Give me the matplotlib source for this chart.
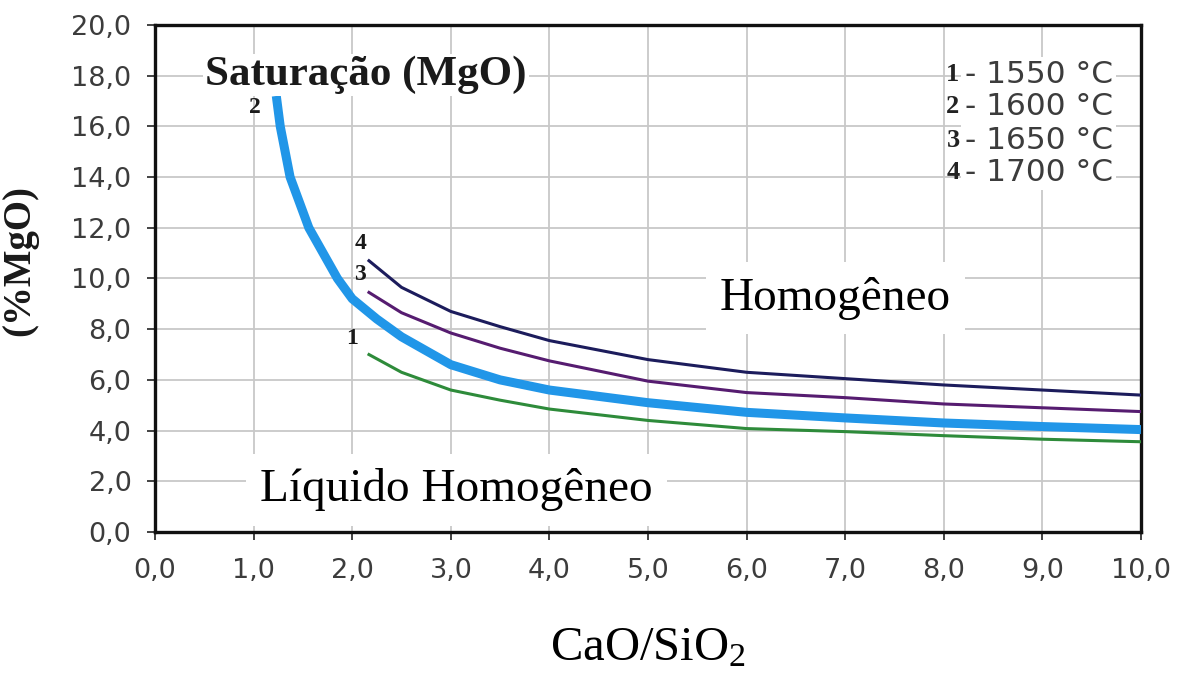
import matplotlib.pyplot as plt

plt.rcParams["mathtext.fontset"] = "custom"
plt.rcParams["mathtext.rm"] = "Liberation Serif"
plt.rcParams["mathtext.it"] = "Liberation Serif:italic"

# MgO saturation vs. basicity (CaO/SiO2), one curve per temperature
x_1550 = [2.17, 2.5, 3.0, 3.5, 4.0, 5.0, 6.0, 7.0, 8.0, 9.0, 10.0]
y_1550 = [7.0, 6.3, 5.6, 5.2, 4.85, 4.4, 4.08, 3.96, 3.8, 3.66, 3.56]

x_1600 = [1.23, 1.27, 1.37, 1.56, 1.85, 2.0, 2.25, 2.5, 3.0, 3.5, 4.0, 5.0,
          6.0, 7.0, 8.0, 9.0, 10.0]
y_1600 = [17.2, 16.0, 14.0, 12.0, 10.0, 9.2, 8.4, 7.7, 6.6, 6.0, 5.6, 5.1,
          4.72, 4.5, 4.3, 4.16, 4.04]

x_1650 = [2.17, 2.5, 3.0, 3.5, 4.0, 5.0, 6.0, 7.0, 8.0, 9.0, 10.0]
y_1650 = [9.45, 8.65, 7.85, 7.25, 6.75, 5.95, 5.5, 5.3, 5.05, 4.9, 4.75]

x_1700 = [2.17, 2.5, 3.0, 3.5, 4.0, 5.0, 6.0, 7.0, 8.0, 9.0, 10.0]
y_1700 = [10.7, 9.65, 8.7, 8.1, 7.55, 6.8, 6.3, 6.05, 5.8, 5.6, 5.4]

curve_ids = ["1", "2", "3", "4"]
temps = ["1550 °C", "1600 °C", "1650 °C", "1700 °C"]

x_ticks = [0, 1, 2, 3, 4, 5, 6, 7, 8, 9, 10]
y_ticks = [0, 2, 4, 6, 8, 10, 12, 14, 16, 18, 20]

SERIF = "Liberation Serif"
TICK_COLOR = "#3c3c3c"

fig = plt.figure(figsize=(11.78, 6.81), dpi=100)
ax = fig.add_axes([0.1316, 0.2188, 0.8370, 0.7445])

ax.plot(x_1550, y_1550, color="#2e8b3a", lw=2.2, zorder=3)
ax.plot(x_1650, y_1650, color="#561c70", lw=2.2, zorder=3)
ax.plot(x_1700, y_1700, color="#1c1c5c", lw=2.2, zorder=3)
ax.plot(x_1600, y_1600, color="#2196e8", lw=6.5, zorder=4,
        solid_capstyle="butt", solid_joinstyle="round")

ax.set_xlim(0, 10)
ax.set_ylim(0, 20)
ax.set_xticks(x_ticks)
ax.set_yticks(y_ticks)
ax.set_xticklabels([f"{v:.1f}".replace(".", ",") for v in x_ticks])
ax.set_yticklabels([f"{v:.1f}".replace(".", ",") for v in y_ticks])
ax.tick_params(axis="both", labelsize=19.5, colors="#222222",
               labelcolor=TICK_COLOR, length=6, width=1.2)
ax.tick_params(axis="x", pad=13)
ax.tick_params(axis="y", pad=11)

ax.grid(True, color="#c8c8c8", lw=1.3, zorder=0)
ax.set_axisbelow(True)
for side in ["left", "right", "top", "bottom"]:
    ax.spines[side].set_linewidth(2.4)
    ax.spines[side].set_color("#111111")

ax.text(2.14, 18.03, "Saturação (MgO)", family=SERIF, weight="bold",
        fontsize=31, ha="center", va="center", zorder=5, color="#1a1a1a",
        bbox=dict(boxstyle="square,pad=0.05", fc="white", ec="none"))

# curve numbers next to each line start
for lx, ly, lab in [(1.01, 16.73, "2"), (2.08, 11.4, "4"),
                    (2.08, 10.14, "3"), (2.0, 7.65, "1")]:
    ax.text(lx, ly, lab, family=SERIF, weight="bold", fontsize=17,
            ha="center", va="center", color="#1a1a1a", zorder=7)

# temperature key, top right
key_y = [18.03, 16.77, 15.46, 14.2]
for cid, t, yy in zip(curve_ids, temps, key_y):
    ax.text(8.16, yy, cid, family=SERIF, weight="bold", fontsize=19,
            ha="right", va="center", color="#222222", zorder=6)
    ax.text(8.21, yy, "- " + t, fontsize=22.5, ha="left", va="center",
            color=TICK_COLOR, zorder=5,
            bbox=dict(boxstyle="square,pad=0.1", fc="white", ec="none"))

ax.text(6.90, 9.23, "Homogêneo", family=SERIF, fontsize=34,
        ha="center", va="center", zorder=5,
        bbox=dict(boxstyle="square,pad=0.3", fc="white", ec="none"))
ax.text(3.06, 1.66, "Líquido Homogêneo", family=SERIF, fontsize=34,
        ha="center", va="center", zorder=5,
        bbox=dict(boxstyle="square,pad=0.3", fc="white", ec="none"))

ax.set_xlabel("CaO/SiO$_2$", family=SERIF, fontsize=35, labelpad=30)
ax.set_ylabel("(%MgO)", family=SERIF, weight="bold", fontsize=28,
              color="#1a1a1a")
ax.yaxis.set_label_coords(-0.118, 0.536)

fig.savefig("out.png", dpi=100, facecolor="white")
